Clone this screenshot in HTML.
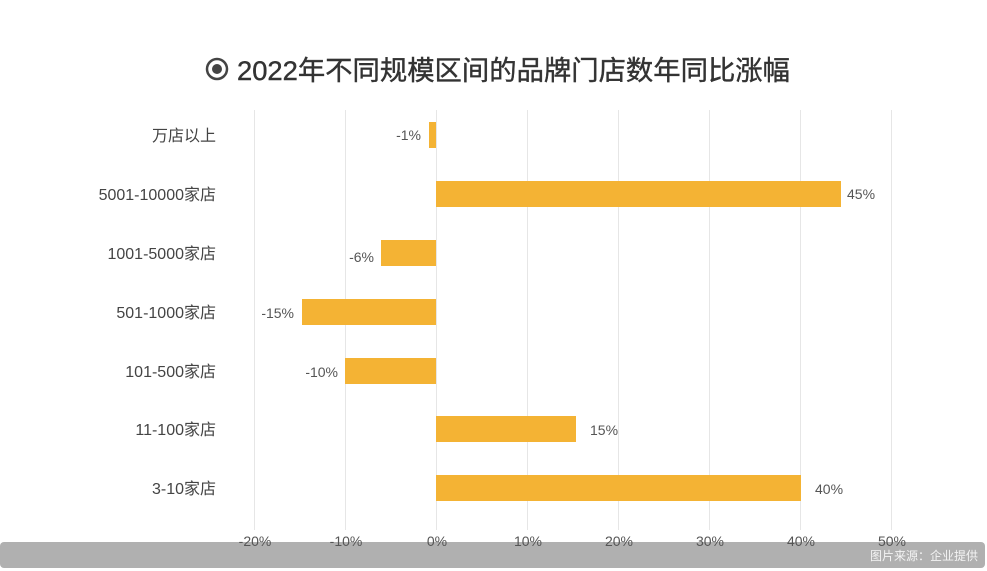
<!DOCTYPE html>
<html><head><meta charset="utf-8"><style>
html,body{margin:0;padding:0;background:#fff;}
svg{display:block;font-family:"Liberation Sans","Noto Sans CJK SC",sans-serif;}
</style></head><body>
<svg width="987" height="571" viewBox="0 0 987 571" xmlns="http://www.w3.org/2000/svg">
<rect width="987" height="571" fill="#fff"/>
<rect x="0" y="542" width="985" height="26" rx="4" fill="#b0b0b0"/>
<text x="978" y="560" font-size="12" fill="#f4f4f4" text-anchor="end">图片来源：企业提供</text>
<circle cx="217" cy="69" r="10" fill="none" stroke="#444" stroke-width="2.5"/>
<circle cx="217" cy="69" r="5" fill="#444"/>
<text x="237" y="80" font-size="27" fill="#333" stroke="#333" stroke-width="0.4" textLength="553" lengthAdjust="spacingAndGlyphs">2022年不同规模区间的品牌门店数年同比涨幅</text>
<g stroke="#e6e6e6" stroke-width="1">
<line x1="254.5" y1="110" x2="254.5" y2="530"/><line x1="345.5" y1="110" x2="345.5" y2="530"/>
<line x1="436.5" y1="110" x2="436.5" y2="530"/><line x1="527.5" y1="110" x2="527.5" y2="530"/>
<line x1="618.5" y1="110" x2="618.5" y2="530"/><line x1="709.5" y1="110" x2="709.5" y2="530"/>
<line x1="800.5" y1="110" x2="800.5" y2="530"/><line x1="891.5" y1="110" x2="891.5" y2="530"/>
</g>
<g font-size="14" fill="#555" text-anchor="middle">
<text x="255" y="546">-20%</text><text x="346" y="546">-10%</text><text x="437" y="546">0%</text>
<text x="528" y="546">10%</text><text x="619" y="546">20%</text><text x="710" y="546">30%</text>
<text x="801" y="546">40%</text><text x="892" y="546">50%</text>
</g>
<g fill="#f4b334">
<rect x="429" y="122" width="7" height="26"/>
<rect x="436" y="181" width="405" height="26"/>
<rect x="381" y="240" width="55" height="26"/>
<rect x="302" y="299" width="134" height="26"/>
<rect x="345" y="358" width="91" height="26"/>
<rect x="436" y="416" width="140" height="26"/>
<rect x="436" y="475" width="365" height="26"/>
</g>
<g font-size="16" fill="#444" text-anchor="end">
<text x="216" y="141">万店以上</text>
<text x="216" y="200">5001-10000家店</text>
<text x="216" y="259">1001-5000家店</text>
<text x="216" y="318">501-1000家店</text>
<text x="216" y="377">101-500家店</text>
<text x="216" y="435">11-100家店</text>
<text x="216" y="494">3-10家店</text>
</g>
<g font-size="14" fill="#555">
<text x="421" y="140" text-anchor="end">-1%</text>
<text x="847" y="199">45%</text>
<text x="374" y="262" text-anchor="end">-6%</text>
<text x="294" y="318" text-anchor="end">-15%</text>
<text x="338" y="377" text-anchor="end">-10%</text>
<text x="590" y="435">15%</text>
<text x="815" y="494">40%</text>
</g>
</svg>
</body></html>
